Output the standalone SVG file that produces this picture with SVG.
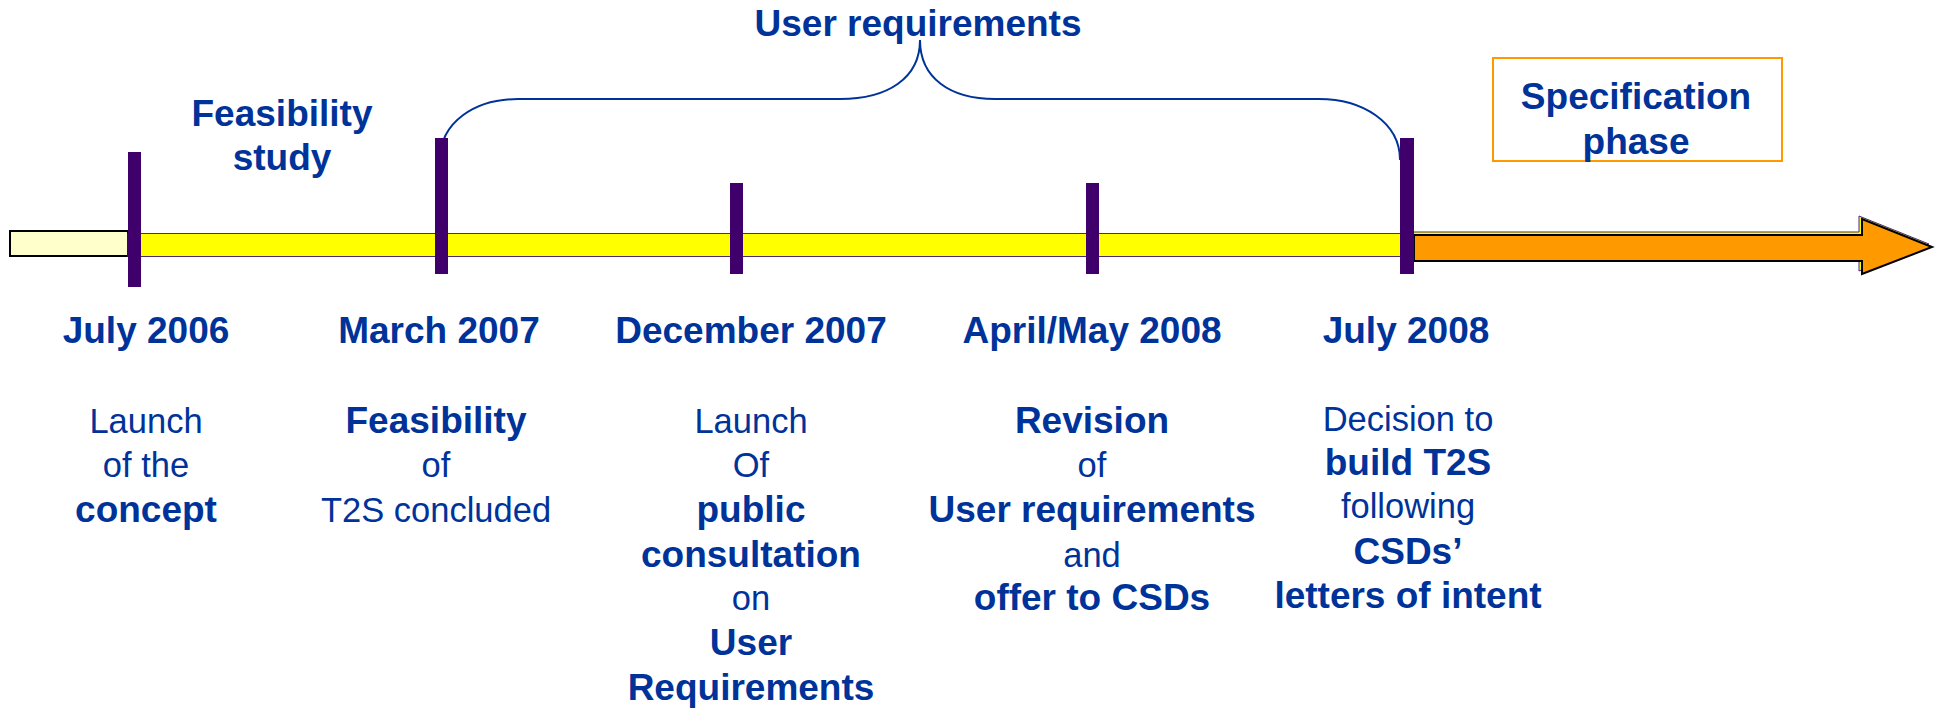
<svg xmlns="http://www.w3.org/2000/svg" width="1937" height="711" viewBox="0 0 1937 711">
<style>
text{font-family:"Liberation Sans",Arial,sans-serif;fill:#003399;text-anchor:middle;font-size:34.5px}
.b{font-weight:bold;font-size:37px}
.tick{fill:#3f006c}
</style>
<rect width="1937" height="711" fill="#ffffff"/>
<g id="timeline">
<rect x="10" y="231" width="118" height="25" fill="#ffffcc" stroke="#000" stroke-width="2"/>
<rect x="128" y="233.5" width="1286" height="23" fill="#ffff00" stroke="#4a2a7a" stroke-width="1"/>
<polygon points="1411,232 1859,232 1859,216 1929,244 1859,271 1859,258 1411,258" fill="#ffff00" stroke="#4a2a7a" stroke-width="1"/>
<polygon points="1414,235 1862,235 1862,219 1932,247 1862,274 1862,261 1414,261" fill="#ff9900" stroke="#000" stroke-width="2"/>
</g>
<g id="connectors">
<path d="M440,160 C440,122 475,99 518,99 L840,99 C888,99 920,78 920,40 C920,78 950,99 995,99 L1319,99 C1362,99 1400,122 1400,160" fill="none" stroke="#003399" stroke-width="2"/>
</g>
<g id="t2006">
<rect class="tick" x="128" y="152" width="13" height="135"/>
<text class="b" x="146" y="343">July 2006</text>
<text x="146" y="433">Launch</text>
<text x="146" y="477">of the</text>
<text class="b" x="146" y="522">concept</text>
</g>
<g id="t2007mar">
<rect class="tick" x="435" y="138" width="13" height="136"/>
<text class="b" x="439" y="343">March 2007</text>
<text class="b" x="436" y="433">Feasibility</text>
<text x="436" y="477">of</text>
<text x="436" y="522">T2S concluded</text>
</g>
<g id="t2007dec">
<rect class="tick" x="730" y="183" width="13" height="91"/>
<text class="b" x="751" y="343">December 2007</text>
<text x="751" y="433">Launch</text>
<text x="751" y="477">Of</text>
<text class="b" x="751" y="522">public</text>
<text class="b" x="751" y="567">consultation</text>
<text x="751" y="610">on</text>
<text class="b" x="751" y="655">User</text>
<text class="b" x="751" y="700">Requirements</text>
</g>
<g id="t2008apr">
<rect class="tick" x="1086" y="183" width="13" height="91"/>
<text class="b" x="1092" y="343">April/May 2008</text>
<text class="b" x="1092" y="433">Revision</text>
<text x="1092" y="477">of</text>
<text class="b" x="1092" y="522">User requirements</text>
<text x="1092" y="567">and</text>
<text class="b" x="1092" y="610">offer to CSDs</text>
</g>
<g id="t2008jul">
<rect class="tick" x="1400" y="138" width="14" height="136"/>
<text class="b" x="1406" y="343">July 2008</text>
<text x="1408" y="431">Decision to</text>
<text class="b" x="1408" y="475">build T2S</text>
<text x="1408" y="518">following</text>
<text class="b" x="1408" y="564">CSDs’</text>
<text class="b" x="1408" y="608">letters of intent</text>
</g>
<g id="feasibility">
<text class="b" x="282" y="126">Feasibility</text>
<text class="b" x="282" y="170">study</text>
</g>
<g id="userreq">
<text class="b" x="918" y="36">User requirements</text>
</g>
<g id="spec">
<rect x="1493" y="58" width="289" height="103" fill="#fff" stroke="#ff9900" stroke-width="2"/>
<text class="b" x="1636" y="109">Specification</text>
<text class="b" x="1636" y="154">phase</text>
</g>
</svg>
